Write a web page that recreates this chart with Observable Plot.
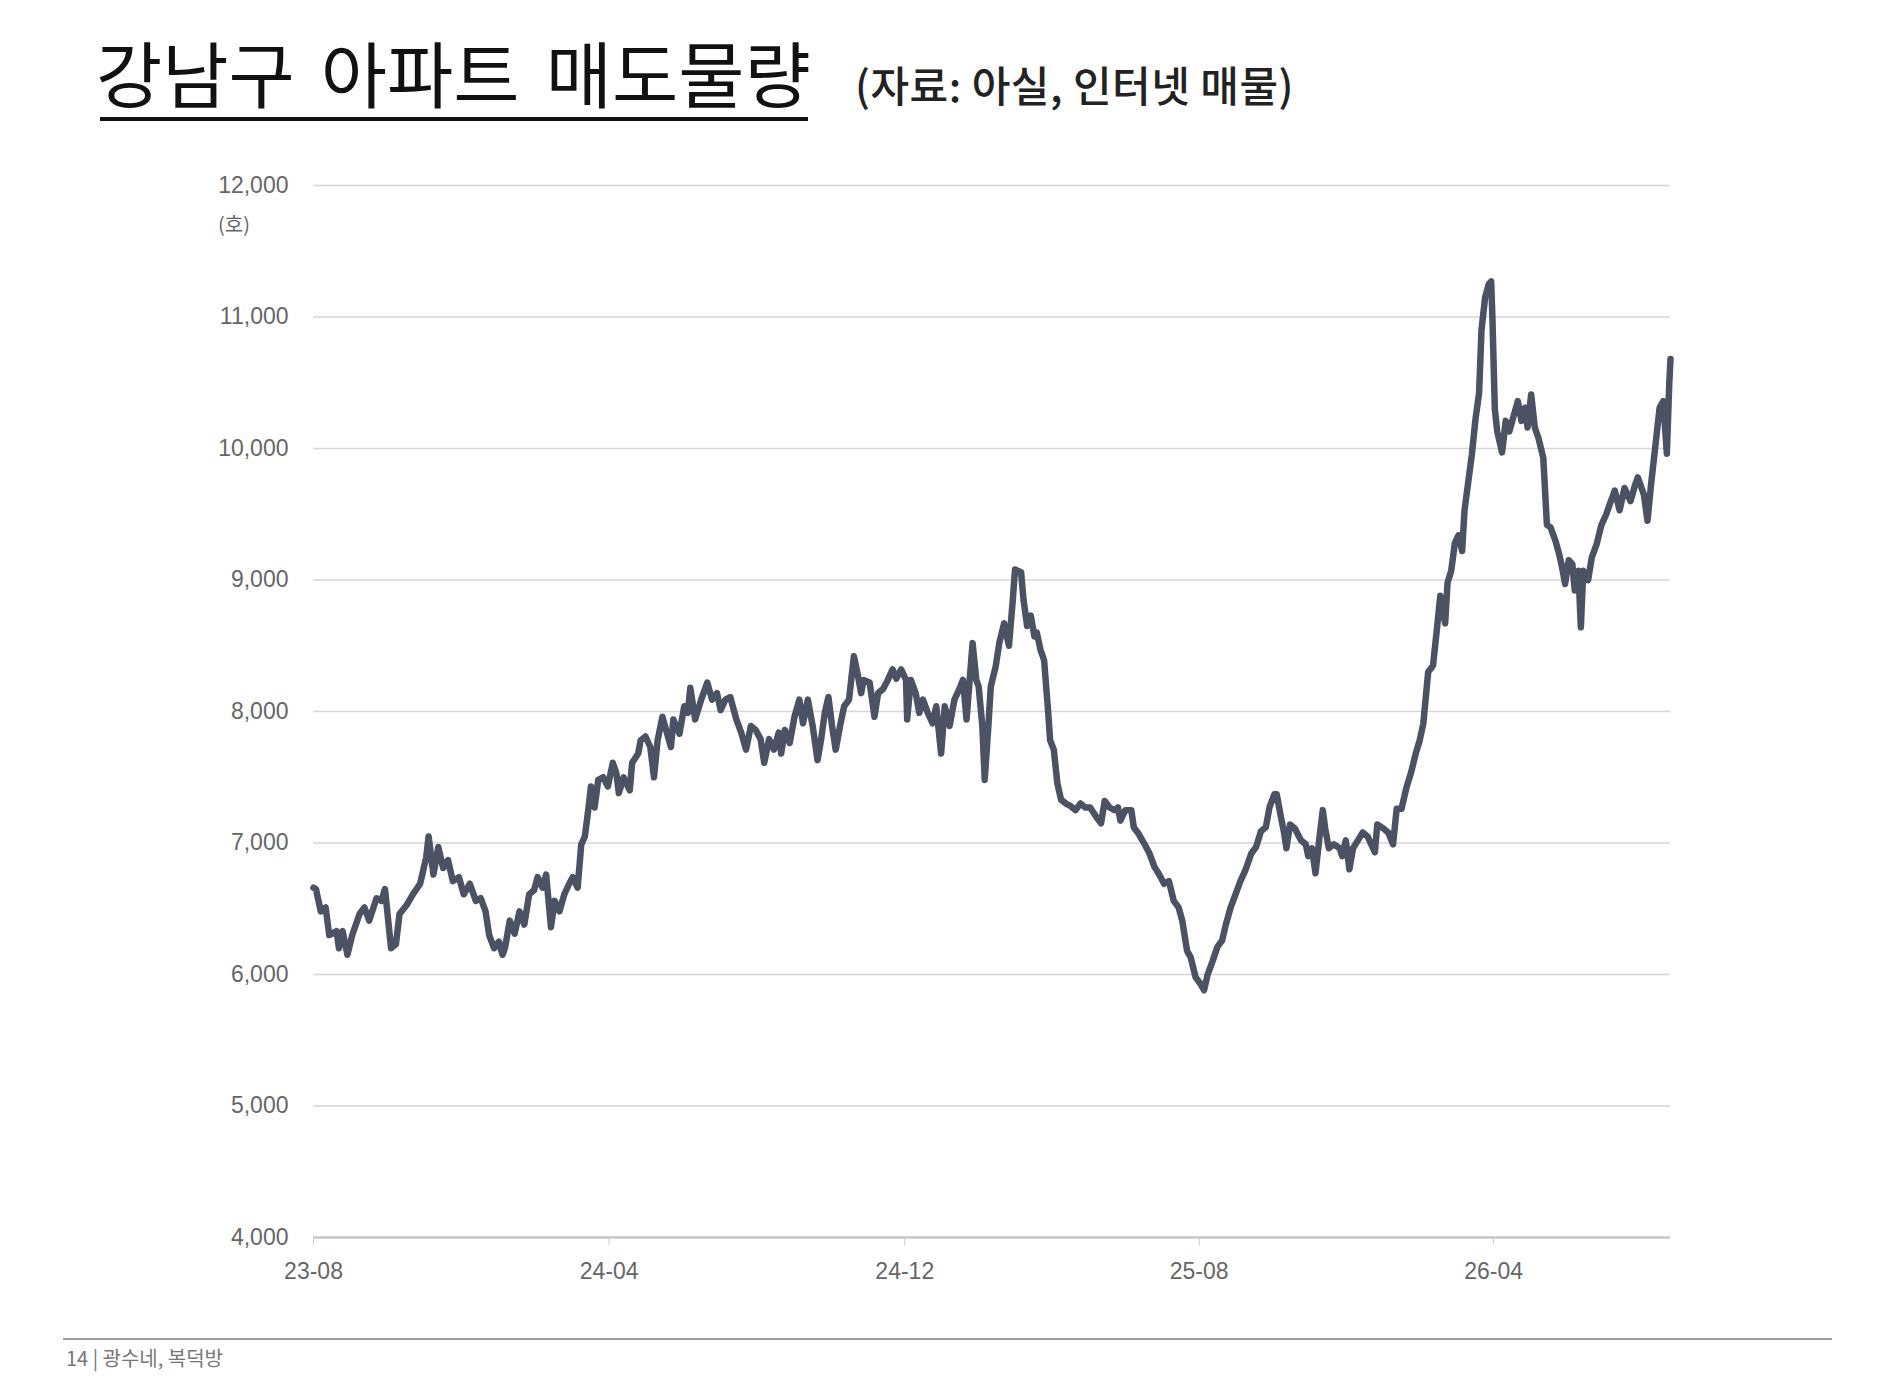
<!DOCTYPE html>
<html><head><meta charset="utf-8">
<script src="https://cdn.jsdelivr.net/npm/d3@7"></script>
<script src="https://cdn.jsdelivr.net/npm/@observablehq/plot@0.6"></script>
<style>
html,body{margin:0;padding:0;background:#fff;}
body{width:1900px;height:1393px;position:relative;overflow:hidden;font-family:"Noto Sans CJK KR",sans-serif;}
#title{position:absolute;left:96px;top:35px;font-size:72px;line-height:1;font-weight:400;color:#111;word-spacing:10px;white-space:nowrap;}
#underline{position:absolute;left:100px;top:117px;width:708px;height:4px;background:#111;}
#subtitle{position:absolute;left:855px;top:63px;font-size:42px;line-height:1;font-weight:500;color:#222;white-space:nowrap;letter-spacing:0.5px;}
#unit{position:absolute;left:218px;top:214px;font-size:20px;line-height:1;color:#666;font-family:"Noto Sans CJK KR",sans-serif;}
#chart{position:absolute;left:0;top:140px;}
#footline{position:absolute;left:63px;top:1338px;width:1769px;height:2px;background:#9a9a9a;}
#footer{position:absolute;left:66px;top:1348px;font-size:20px;line-height:1;color:#777;white-space:nowrap;}
</style></head>
<body>
<div id="title">강남구 아파트 매도물량</div>
<div id="underline"></div>
<div id="subtitle">(자료: 아실, 인터넷 매물)</div>
<div id="chart"></div>
<div id="unit">(호)</div>
<div id="footline"></div>
<div id="footer">14 | 광수네, 복덕방</div>
<script>
// days since 2023-08-01
const dayOffsets = [
0,2,6,10,13,19,21,24,28,32,38,42,46,52,56,59,64,68,71,77,82,88,93,95,99,103,107,111,115,120,124,129,134,138,142,145,149,153,156,
158,162,166,170,174,178,182,185,189,192,196,199,203,207,211,214,218,221,224,227,229,232,235,239,243,247,250,252,256,261,263,268,270,274,278,281,284,288,291,295,297,302,306,309,311,315,
320,325,329,333,336,340,344,349,353,357,361,365,369,372,376,380,384,386,389,393,397,401,404,408,412,416,419,422,425,428,431,435,438,442,446,449,452,454,459,463,466,470,474,478,481,
485,489,490,493,497,500,503,507,511,514,518,521,525,529,533,536,539,542,544,547,549,552,554,557,559,563,566,570,574,577,579,584,586,589,592,595,597,600,603,606,608,611,614,617,621,625,629,633,637,
641,646,650,653,657,661,664,666,670,675,677,681,686,690,694,698,702,706,710,714,717,721,724,728,732,735,738,742,746,750,753,757,761,765,769,774,778,782,786,789,793,795,798,801,803,
806,810,815,819,821,824,827,830,833,835,838,842,847,849,852,855,858,862,866,870,873,876,878,883,887,891,894,898,902,906,910,913,916,920,924,927,930,934,936,939,942,945,948,950,953,956,959,962,964,967,970,972,973,975,
977,981,984,987,990,994,997,1000,1002,1005,1008,1011,1015,1018,1021,1025,1028,1030,1033,1036,1039,1041,1044,1046,1048,1052,1055,1059,1063,1067,1070,1074,1078,1082,1087,1091,1093,1098,1101,1104,1108,1111,1114,1117,1119,1120
];
// 매도물량 (호)
const listings = [
6660,6650,6480,6510,6300,6330,6200,6330,6150,6300,6460,6510,6410,6580,6560,6650,6200,6230,6460,6530,6610,6690,6890,7050,6760,6970,6810,6870,6710,6740,6610,6690,6560,6580,6480,6300,6200,6250,6150,
6200,6410,6310,6480,6380,6610,6640,6740,6660,6760,6360,6560,6480,6610,6690,6740,6660,6990,7050,7270,7430,7270,7480,7500,7430,7610,7530,7380,7500,7400,7610,7680,7780,7810,7730,7500,7780,7960,7860,7730,7940,7830,8040,7990,8180,7940,
8090,8220,8090,8140,8010,8090,8110,7940,7840,7710,7890,7860,7790,7610,7790,7710,7840,7680,7860,7760,7960,8090,7910,8090,7890,7630,7790,7990,8110,7890,7710,7910,8040,8090,8420,8290,8140,8240,8220,7960,8140,8170,8240,8320,8250,
8320,8240,7940,8240,8140,7990,8090,7990,7910,8040,7680,8040,7890,8090,8170,8240,7940,8290,8520,8240,8190,7890,7480,7890,8190,8340,8520,8670,8500,8830,9080,9060,8850,8650,8730,8570,8600,8470,8390,8040,7780,7710,7450,7330,7300,7280,7250,7300,7270,
7270,7200,7150,7320,7270,7250,7270,7170,7250,7250,7120,7070,6990,6920,6820,6760,6690,6710,6560,6510,6410,6180,6130,5980,5930,5880,6000,6100,6210,6260,6380,6510,6610,6710,6790,6920,6970,7090,7120,7270,7370,7370,7220,7080,6960,
7140,7110,7020,6990,6900,6960,6770,7020,7250,7110,6960,6990,6960,6900,7020,6800,6960,7020,7080,7050,6990,6930,7140,7110,7080,6990,7260,7260,7420,7540,7690,7780,7910,8300,8350,8610,8880,8670,8980,9070,9280,9340,9220,9530,9740,9950,10220,10420,10900,11150,11250,11270,11000,10300,
10130,9970,10210,10130,10230,10360,10210,10310,10160,10410,10160,10080,9930,9420,9400,9300,9200,9120,8970,9150,9120,8920,9070,8640,9070,9000,9170,9270,9420,9500,9580,9680,9530,9700,9600,9730,9780,9650,9450,9730,10060,10310,10360,9960,10500,10680
];
const startDate = "2023-08-01";
const endDate = "2026-08-25";
const yTicks = [4000,5000,6000,7000,8000,9000,10000,11000,12000];
const xTicks = ["2023-08-01","2024-04-01","2024-12-01","2025-08-01","2026-04-01"];

const start = new Date(startDate);
const data = dayOffsets.map((d, i) => ({date: d3.utcDay.offset(start, d), value: listings[i]}));
const xTickDates = xTicks.map(s => new Date(s));

const chart = Plot.plot({
  width: 1900,
  height: 1160,
  marginLeft: 313,
  marginRight: 230,
  marginTop: 45,
  marginBottom: 63,
  x: {type: "utc", domain: [start, new Date(endDate)], label: null},
  y: {domain: [4000, 12000], label: null},
  style: {fontFamily: "'Liberation Sans', Arial, sans-serif", fontSize: "23px", color: "#666", background: "#fff"},
  marks: [
    Plot.gridY(yTicks, {stroke: "#d6d6d6", strokeOpacity: 1, strokeWidth: 1.5}),
    Plot.ruleY([4000], {stroke: "#c8c8c8", strokeWidth: 2.5}),
    Plot.axisY(yTicks, {tickSize: 0, tickPadding: 25, tickFormat: d3.format(","), fill: "#666", label: null}),
    Plot.axisX(xTickDates, {tickSize: 8, tickPadding: 17, tickFormat: d3.utcFormat("%y-%m"), stroke: "#ccc", fill: "#666", label: null}),
    Plot.lineY(data, {x: "date", y: "value", stroke: "#4a5263", strokeWidth: 6.5, strokeLinejoin: "round", strokeLinecap: "round"})
  ]
});
document.getElementById("chart").appendChild(chart);
</script>
</body></html>
